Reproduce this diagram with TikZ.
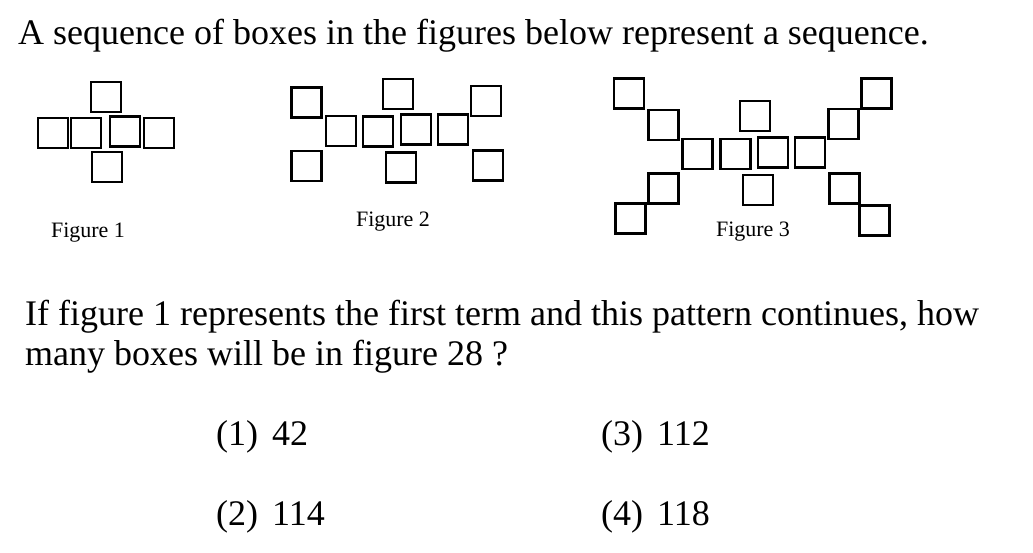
\documentclass[tikz,border=0pt]{standalone}
\usepackage{fontspec}
\setmainfont{Liberation Serif}
\begin{document}
\begin{tikzpicture}[x=1pt,y=-1pt,
  sq/.style={draw=black,line width=2.6pt,minimum width=30pt,minimum height=30pt,inner sep=0pt,outer sep=0pt},
  bigtext/.style={anchor=base west,inner sep=0pt,font=\fontsize{36}{41}\selectfont},
  anstext/.style={anchor=base west,inner sep=0pt,font=\fontsize{36}{41}\selectfont},
  figlabel/.style={anchor=base,inner sep=0pt,font=\fontsize{22}{26}\selectfont}]
\useasboundingbox (0,0) rectangle (1033,553);
\node[bigtext] (title) at (18,45) {A sequence of boxes in the figures below represent a sequence.};
% Figure 1
\node[sq] (a1) at (106,97) {};
\node[sq] (a2) at (53,133) {};
\node[sq] (a3) at (86,133) {};
\node[sq] (a4) at (125,131.5) {};
\node[sq] (a5) at (159,133) {};
\node[sq] (a6) at (107,167) {};
\node[figlabel] (l1) at (88,238) {Figure 1};
% Figure 2
\node[sq] (b1) at (306.7,102.8) {};
\node[sq] (b2) at (398,94) {};
\node[sq] (b3) at (486,101) {};
\node[sq] (b4) at (341,131) {};
\node[sq] (b5) at (378,131.3) {};
\node[sq] (b6) at (416,129.3) {};
\node[sq] (b7) at (453,129.5) {};
\node[sq] (b8) at (306.7,166) {};
\node[sq] (b9) at (400.8,167.3) {};
\node[sq] (b10) at (487.8,165.7) {};
\node[figlabel] (l2) at (393,227) {Figure 2};
% Figure 3
\node[sq] (c1) at (628.8,93.7) {};
\node[sq] (c2) at (663.7,125) {};
\node[sq] (c3) at (755,116) {};
\node[sq] (c4) at (876.3,93.7) {};
\node[sq] (c5) at (843.3,124) {};
\node[sq] (c6) at (697.5,154) {};
\node[sq] (c7) at (735.3,154) {};
\node[sq] (c8) at (773,152.5) {};
\node[sq] (c9) at (810,152.5) {};
\node[sq] (c10) at (663.7,188.3) {};
\node[sq] (c11) at (630.3,218.3) {};
\node[sq] (c12) at (757.8,190) {};
\node[sq] (c13) at (844.7,188.3) {};
\node[sq] (c14) at (874.7,220.8) {};
\node[figlabel] (l3) at (753,237) {Figure 3};
% Question
\node[bigtext] (q1) at (25,325) {If figure 1 represents the first term and this pattern continues, how};
\node[bigtext] (q2) at (25,365) {many boxes will be in figure 28 ?};
% Answers
\node[anstext] (o1) at (216,445) {(1)\hspace{14pt}42};
\node[anstext] (o3) at (601,445) {(3)\hspace{14pt}112};
\node[anstext] (o2) at (216,525) {(2)\hspace{14pt}114};
\node[anstext] (o4) at (601,525) {(4)\hspace{14pt}118};
\end{tikzpicture}
\end{document}
